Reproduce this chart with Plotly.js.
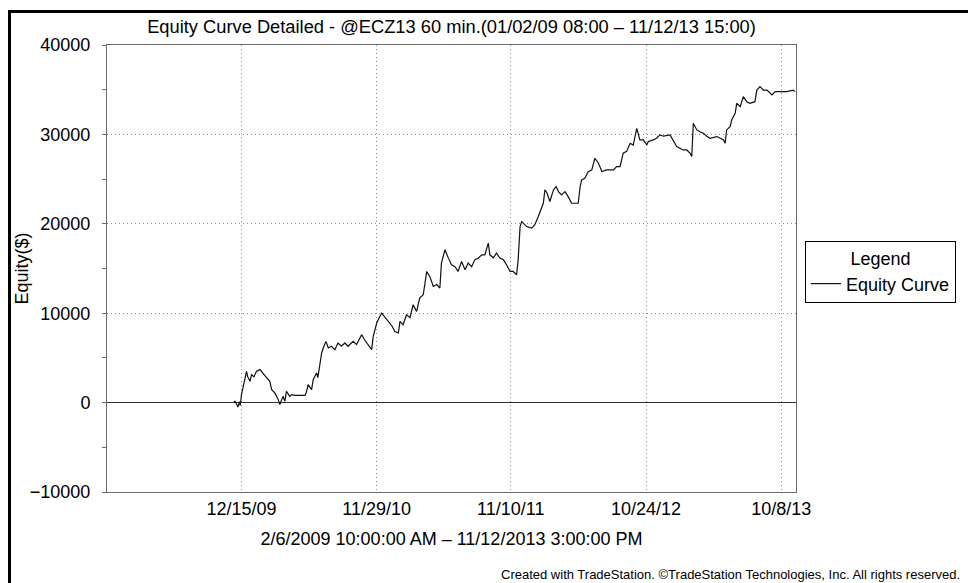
<!DOCTYPE html>
<html>
<head>
<meta charset="utf-8">
<script src="https://cdn.plot.ly/plotly-3.0.1.min.js"></script>
<style>
  html, body { margin: 0; padding: 0; background: #fff; }
  #wrap { position: relative; width: 968px; height: 583px; overflow: hidden; }
  #chart { position: absolute; left: 0; top: 0; width: 968px; height: 583px; }
  #frame { position: absolute; left: 8px; top: 10px; width: 970px; height: 590px;
           border-left: 3px solid #000; border-top: 3px solid #000; pointer-events: none; }
</style>
</head>
<body>
<div id="wrap">
  <div id="chart"></div>
  <div id="frame"></div>
</div>
<script>
// ---- data ----
const dates = [
 '2009-11-24','2009-11-28','2009-12-03','2009-12-06','2009-12-10','2009-12-12','2009-12-15','2009-12-19',
 '2009-12-24','2009-12-28','2009-12-31','2010-01-06','2010-01-10','2010-01-16','2010-01-23','2010-02-01',
 '2010-02-08','2010-02-18','2010-02-26','2010-03-03','2010-03-11','2010-03-20','2010-03-24','2010-04-01',
 '2010-04-06','2010-04-10','2010-04-19','2010-04-24','2010-05-02','2010-05-28','2010-06-01','2010-06-05',
 '2010-06-14','2010-06-18','2010-06-27','2010-06-30','2010-07-05','2010-07-10','2010-07-14','2010-07-21',
 '2010-07-27','2010-08-04','2010-08-13','2010-08-21','2010-08-30','2010-09-08','2010-09-16','2010-09-29',
 '2010-10-08','2010-10-21','2010-10-29','2010-11-07','2010-11-16','2010-11-20','2010-11-29','2010-12-05',
 '2010-12-12','2010-12-20','2010-12-29','2011-01-07','2011-01-15','2011-01-24','2011-01-28','2011-02-05',
 '2011-02-14','2011-02-23','2011-03-03','2011-03-12','2011-03-20','2011-03-29','2011-04-02','2011-04-07',
 '2011-04-15','2011-04-24','2011-05-03','2011-05-11','2011-05-15','2011-05-24','2011-06-02','2011-06-10',
 '2011-06-19','2011-06-27','2011-07-06','2011-07-15','2011-07-23','2011-08-01','2011-08-09','2011-08-18',
 '2011-08-27','2011-09-04','2011-09-13','2011-09-17','2011-09-26','2011-10-04','2011-10-13','2011-10-22',
 '2011-10-30','2011-11-08','2011-11-16','2011-11-25','2011-11-29','2011-12-04','2011-12-08','2011-12-21',
 '2012-01-03','2012-01-11','2012-01-20','2012-01-29','2012-02-02','2012-02-06','2012-02-11','2012-02-19',
 '2012-02-28','2012-03-06','2012-03-12','2012-03-20','2012-03-29','2012-04-06','2012-04-15','2012-05-02',
 '2012-05-07','2012-05-11','2012-05-19','2012-05-28','2012-06-06','2012-06-14','2012-06-23','2012-07-02',
 '2012-07-14','2012-08-01','2012-08-09','2012-08-18','2012-08-26','2012-09-04','2012-09-13','2012-09-21',
 '2012-09-26','2012-09-30','2012-10-08','2012-10-17','2012-10-26','2012-10-30','2012-11-12','2012-11-21',
 '2012-11-29','2012-12-08','2012-12-25','2013-01-02','2013-01-11','2013-01-28','2013-02-06','2013-02-15',
 '2013-02-19','2013-02-23','2013-03-04','2013-03-12','2013-03-21','2013-03-30','2013-04-07','2013-04-25',
 '2013-05-12','2013-05-16','2013-05-20','2013-05-29','2013-06-02','2013-06-11','2013-06-15','2013-06-24',
 '2013-07-02','2013-07-11','2013-07-19','2013-08-01','2013-08-06','2013-08-14','2013-08-23','2013-09-01',
 '2013-09-14','2013-09-22','2013-10-05','2013-10-22','2013-11-08','2013-11-12'
];
const equity = [
 0,150,-220,-500,100,-300,900,1640,
 2570,3500,2900,2380,3130,2900,3500,3690,
 3300,2760,2380,1450,1080,335,-220,700,
 150,1260,700,900,800,800,1260,2010,
 1450,2570,3320,2800,4430,5550,6110,6850,
 6110,6300,5920,6670,6300,6670,6300,6850,
 6500,7600,7000,6480,5920,7410,8900,9460,
 10020,9550,9080,8600,7960,7790,9080,8700,
 9830,9500,10950,10200,11700,12060,13180,14670,
 14110,12990,13200,12810,15600,17090,16160,15420,
 15200,14670,15780,14860,15600,15200,15970,16160,
 16530,16530,17840,16530,16200,16720,16160,15970,
 15420,14670,14670,14300,15970,19690,20250,19690,
 19510,19900,20810,21740,22300,23790,23500,22490,
 23790,24160,23600,23230,23600,23040,22300,22300,
 24160,24910,25100,25840,26030,27330,26800,25840,
 26030,26030,26400,26400,27890,28100,29000,28800,
 29750,30680,29380,29380,28820,29200,29380,29600,
 29940,29800,29940,29380,28640,28260,28260,27890,
 27520,31240,30500,30300,30120,29800,29570,29760,
 29380,29000,30500,30870,31610,32360,33480,33100,
 34220,33660,33480,33660,34960,35340,34960,34960,
 34410,34780,34780,34780,34960,34780
];
const xTickDates  = ['2009-12-15','2010-11-29','2011-11-10','2012-10-24','2013-10-08'];
const xTickLabels = ['12/15/09','11/29/10','11/10/11','10/24/12','10/8/13'];
const yTickValues = [-10000, 0, 10000, 20000, 30000, 40000];
const xRange = ['2009-01-02', '2013-11-15'];
const yRange = [-10000, 40000];
const seriesName = 'Equity Curve';
const chartTitle = 'Equity Curve Detailed - @ECZ13 60 min.(01/02/09 08:00 \u2013 11/12/13 15:00)';
const xTitle = '2/6/2009 10:00:00 AM \u2013 11/12/2013 3:00:00 PM';
const yTitle = 'Equity($)';
const footer = 'Created with TradeStation. \u00A9TradeStation Technologies, Inc. All rights reserved.';

const FONT = 'Liberation Sans, Arial, Helvetica, sans-serif';

const trace = {
  type: 'scatter', mode: 'lines', name: seriesName,
  x: dates, y: equity,
  line: { color: '#111', width: 1.2 },
  showlegend: true
};

const layout = {
  width: 968, height: 583,
  margin: { l: 107, r: 172, t: 45, b: 91, pad: 0 },
  paper_bgcolor: 'rgba(0,0,0,0)', plot_bgcolor: '#fff',
  font: { family: FONT, size: 18, color: '#000' },
  showlegend: true,
  title: { text: chartTitle, x: 0.5, xref: 'paper', xanchor: 'center',
           y: 1 - 27 / 583, yref: 'container', yanchor: 'middle',
           font: { family: FONT, size: 18.3, color: '#000' } },
  xaxis: {
    type: 'date', range: xRange,
    tickmode: 'array', tickvals: xTickDates, ticktext: xTickLabels,
    ticks: '', ticklabelstandoff: 0,
    showgrid: true, gridcolor: '#8a8a8a', griddash: '1px,3px', gridwidth: 1,
    showline: true, linecolor: '#6a6a6a', linewidth: 1, mirror: true,
    zeroline: false,
    tickfont: { family: FONT, size: 18, color: '#000' },
    title: { text: xTitle, standoff: 14, font: { family: FONT, size: 18, color: '#000' } }
  },
  yaxis: {
    range: yRange,
    tickmode: 'array', tickvals: yTickValues, tickformat: 'd',
    ticks: 'outside', ticklen: 4, tickcolor: '#6a6a6a', tickwidth: 1,
    minor: { tickmode: 'linear', tick0: 0, dtick: 5000, ticks: 'outside', ticklen: 4, tickcolor: '#6a6a6a', showgrid: false },
    ticklabelstandoff: 8,
    exponentformat: 'none', separatethousands: false,
    showgrid: true, gridcolor: '#8a8a8a', griddash: '1px,3px', gridwidth: 1,
    zeroline: true, zerolinecolor: '#333', zerolinewidth: 1,
    showline: true, linecolor: '#6a6a6a', linewidth: 1, mirror: true,
    tickfont: { family: FONT, size: 18, color: '#000' }
  },
  legend: {
    x: 1.013, xanchor: 'left', y: (492 - 241) / 447, yanchor: 'top',
    bgcolor: '#fff', bordercolor: '#000', borderwidth: 1,
    font: { family: FONT, size: 18, color: '#000' },
    title: { text: 'Legend', side: 'top center', font: { family: FONT, size: 18, color: '#000' } },
    tracegroupgap: 0
  },
  annotations: [{
    text: yTitle, showarrow: false, textangle: -90,
    xref: 'paper', yref: 'paper', x: (21 - 107) / 689, y: 0.5,
    xanchor: 'center', yanchor: 'middle',
    font: { family: FONT, size: 18, color: '#000' }
  }, {
    text: footer, showarrow: false,
    xref: 'paper', yref: 'paper', x: (962 - 107) / 689, y: (492 - 574) / 447,
    xanchor: 'right', yanchor: 'middle',
    font: { family: FONT, size: 13, color: '#000' }
  }]
};

Plotly.newPlot('chart', [trace], layout, { staticPlot: true, displayModeBar: false });
</script>
</body>
</html>
